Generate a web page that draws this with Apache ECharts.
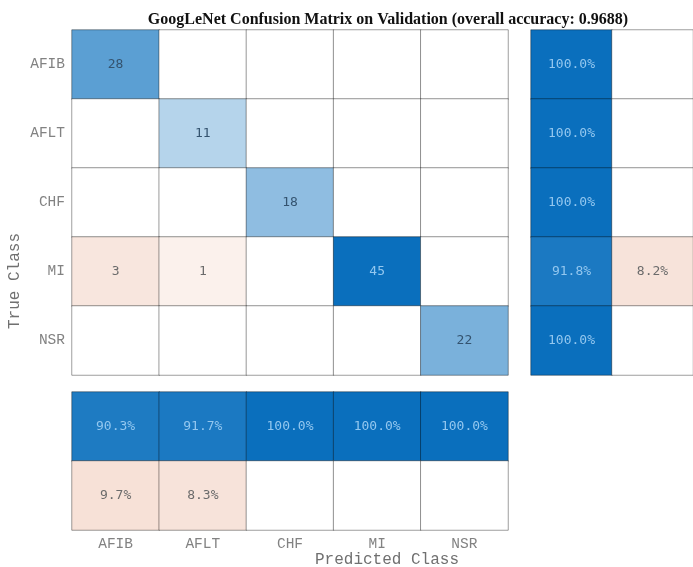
<!DOCTYPE html>
<html>
<head>
<meta charset="utf-8">
<script src="https://cdn.jsdelivr.net/npm/echarts@6/dist/echarts.min.js"></script>
<style>html,body{margin:0;padding:0;background:#fff}#c{width:693px;height:567px}</style>
</head>
<body>
<div id="c"></div>
<script>
const classes = ['AFIB', 'AFLT', 'CHF', 'MI', 'NSR'];
// rows = true class, columns = predicted class
const counts = [
  [28, 0, 0, 0, 0],
  [0, 11, 0, 0, 0],
  [0, 0, 18, 0, 0],
  [3, 1, 0, 45, 0],
  [0, 0, 0, 0, 22]
];
const rowCorrect = [100.0, 100.0, 100.0, 91.8, 100.0];
const rowWrong = [0, 0, 0, 8.2, 0];
const colCorrect = [90.3, 91.7, 100.0, 100.0, 100.0];
const colWrong = [9.7, 8.3, 0, 0, 0];
const titleText = 'GoogLeNet Confusion Matrix on Validation (overall accuracy: 0.9688)';

const BLUE = [10, 111, 189];
const RED = [228, 158, 126];
function mix(base, t) {
  const c = base.map(b => Math.round(255 - t * (255 - b)));
  return 'rgb(' + c.join(',') + ')';
}
function blue(t) { return mix(BLUE, Math.pow(t, 0.85)); }
function red(t) { return mix(RED, Math.sqrt(t)); }

const maxCount = Math.max(...counts.flat());
const border = { borderColor: 'rgba(0,0,0,0.38)', borderWidth: 1 };
const cellFont = { fontFamily: 'DejaVu Sans Mono', fontSize: 13 };

function cell(x, y, v, isGood, t, text) {
  const empty = v === 0;
  const color = empty ? '#ffffff' : (isGood ? blue(t) : red(t));
  const txtColor = isGood ? (t > 0.7 ? '#93c7ef' : '#34536f') : '#6b6b6b';
  return {
    value: [x, y, v],
    itemStyle: Object.assign({ color: color }, border),
    label: Object.assign({ show: !empty, formatter: text, color: txtColor }, cellFont)
  };
}

const mainData = [];
counts.forEach((row, i) => row.forEach((v, j) => {
  mainData.push(cell(j, i, v, i === j, v / maxCount, String(v)));
}));
const rowData = [];
rowCorrect.forEach((p, i) => rowData.push(cell(0, i, p, true, p / 100, p.toFixed(1) + '%')));
rowWrong.forEach((p, i) => rowData.push(cell(1, i, p, false, p / 100, p.toFixed(1) + '%')));
const colData = [];
colCorrect.forEach((p, j) => colData.push(cell(j, 0, p, true, p / 100, p.toFixed(1) + '%')));
colWrong.forEach((p, j) => colData.push(cell(j, 1, p, false, p / 100, p.toFixed(1) + '%')));

const tickStyle = { fontFamily: 'Liberation Mono', fontSize: 14.5, color: '#828282' };
const hidden = { show: false };

const chart = echarts.init(document.getElementById('c'), null, { renderer: 'canvas' });
chart.setOption({
  animation: false,
  backgroundColor: '#fff',
  title: {
    text: titleText, left: 383, textAlign: 'center', top: 7,
    textStyle: { fontFamily: 'Liberation Serif', fontWeight: 'bold', fontSize: 16, color: '#111' }
  },
  grid: [
    { left: 72, top: 30, width: 436, height: 345 },
    { left: 531, top: 30, width: 172, height: 345 },
    { left: 72, top: 392, width: 436, height: 138 }
  ],
  xAxis: [
    { gridIndex: 0, type: 'category', data: classes, show: false },
    { gridIndex: 1, type: 'category', data: ['c', 'w'], show: false },
    { gridIndex: 2, type: 'category', data: classes, position: 'bottom',
      axisLine: hidden, axisTick: hidden, splitLine: hidden,
      axisLabel: Object.assign({ margin: 7 }, tickStyle) }
  ],
  yAxis: [
    { gridIndex: 0, type: 'category', data: classes, inverse: true,
      axisLine: hidden, axisTick: hidden, splitLine: hidden,
      axisLabel: Object.assign({ margin: 7 }, tickStyle) },
    { gridIndex: 1, type: 'category', data: classes, inverse: true, show: false },
    { gridIndex: 2, type: 'category', data: ['c', 'w'], inverse: true, show: false }
  ],
  graphic: [
    { type: 'text', left: 7, top: 233, rotation: Math.PI / 2,
      style: { text: 'True Class', font: '16px "Liberation Mono"', fill: '#707070' } },
    { type: 'text', left: 315, top: 552,
      style: { text: 'Predicted Class', font: '16px "Liberation Mono"', fill: '#707070' } }
  ],
  series: [
    { type: 'heatmap', xAxisIndex: 0, yAxisIndex: 0, data: mainData, label: { show: true } },
    { type: 'heatmap', xAxisIndex: 1, yAxisIndex: 1, data: rowData, label: { show: true } },
    { type: 'heatmap', xAxisIndex: 2, yAxisIndex: 2, data: colData, label: { show: true } }
  ]
});
</script>
</body>
</html>
